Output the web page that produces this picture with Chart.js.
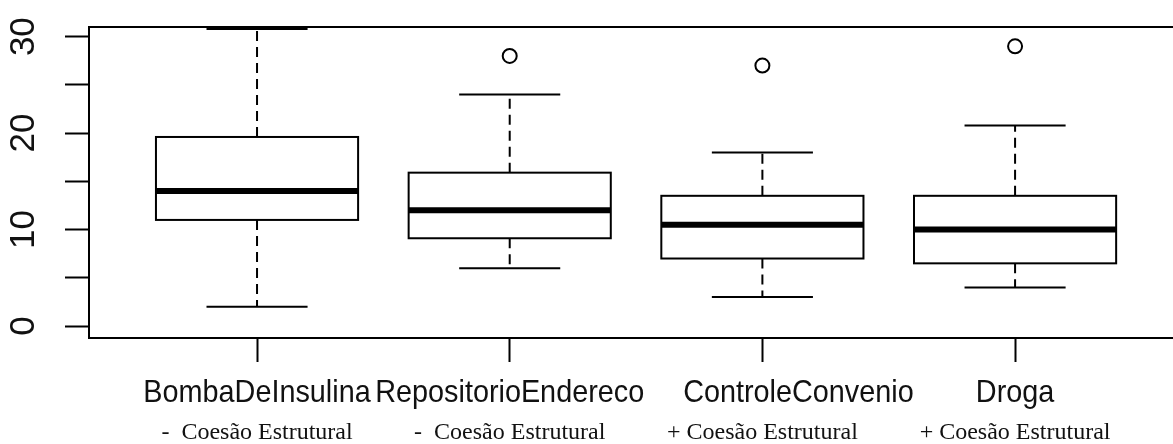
<!DOCTYPE html>
<html>
<head>
<meta charset="utf-8">
<script src="https://cdn.jsdelivr.net/npm/chart.js@4.4.0/dist/chart.umd.min.js"></script>
<style>
  html, body { margin: 0; padding: 0; background: #fff; }
  #wrap { width: 1173px; height: 444px; }
</style>
</head>
<body>
<div id="wrap"><canvas id="myChart"></canvas></div>
<script>
const categories = ["BombaDeInsulina", "RepositorioEndereco", "         ControleConvenio", "Droga"];
const subLabels = ["-  Coesão Estrutural", "-  Coesão Estrutural", "+ Coesão Estrutural", "+ Coesão Estrutural"];

// five-number summary of each group
const whiskerLow = [2, 6, 3, 4];
const boxLow = [11, 9.1, 7, 6.5];
const medians = [14, 12, 10.5, 10];
const boxHigh = [19.6, 15.9, 13.5, 13.5];
const whiskerHigh = [30.8, 24, 18, 20.8];

// points beyond the whiskers (group number, value)
const outlierGroup = [2, 3, 4];
const outlierValue = [28, 27, 29];

const yTicks = [0, 5, 10, 15, 20, 25, 30];
const yLabelled = [0, 10, 20, 30];

const ctx = document.getElementById("myChart").getContext("2d");

// boxes, medians and whiskers drawn on the chart's own scales
const boxplotPlugin = {
  id: "boxplot",
  beforeDatasetsDraw(chart) {
    const c = chart.ctx;
    const area = chart.chartArea;
    const x = chart.scales.x;
    const y = chart.scales.y;
    c.save();
    c.strokeStyle = "#000";
    c.lineWidth = 2;
    // plot frame (right side runs off the canvas)
    c.strokeRect(area.left, area.top, area.right - area.left + 20, area.bottom - area.top);

    categories.forEach((name, i) => {
      const g = i + 1;
      const xc = x.getPixelForValue(g);
      const bx0 = x.getPixelForValue(g - 0.4);
      const bx1 = x.getPixelForValue(g + 0.4);
      const sx0 = x.getPixelForValue(g - 0.2);
      const sx1 = x.getPixelForValue(g + 0.2);
      const yLo = y.getPixelForValue(boxLow[i]);
      const yHi = y.getPixelForValue(boxHigh[i]);
      const yMed = y.getPixelForValue(medians[i]);
      const wLo = y.getPixelForValue(whiskerLow[i]);
      const wHi = y.getPixelForValue(whiskerHigh[i]);

      // dashed whiskers
      c.lineWidth = 2;
      c.setLineDash([10, 6]);
      c.beginPath();
      c.moveTo(xc, yHi); c.lineTo(xc, wHi);
      c.moveTo(xc, yLo); c.lineTo(xc, wLo);
      c.stroke();
      c.setLineDash([]);

      // staples
      c.beginPath();
      c.moveTo(sx0, wHi); c.lineTo(sx1, wHi);
      c.moveTo(sx0, wLo); c.lineTo(sx1, wLo);
      c.stroke();

      // box
      c.fillStyle = "#fff";
      c.fillRect(bx0, yHi, bx1 - bx0, yLo - yHi);
      c.strokeRect(bx0, yHi, bx1 - bx0, yLo - yHi);

      // median
      c.lineWidth = 6;
      c.beginPath();
      c.moveTo(bx0, yMed); c.lineTo(bx1, yMed);
      c.stroke();
    });
    c.restore();
  }
};

// group names in a narrow sans face, with the serif note underneath
const groupLabelPlugin = {
  id: "groupLabels",
  afterDraw(chart) {
    const c = chart.ctx;
    const x = chart.scales.x;
    const base = chart.chartArea.bottom;
    c.save();
    c.fillStyle = "#111";
    c.textAlign = "center";
    c.textBaseline = "alphabetic";
    categories.forEach((name, i) => {
      const px = x.getPixelForValue(i + 1);
      c.font = "32px 'Liberation Sans', Arial, sans-serif";
      c.fillText(name, px, base + 64, c.measureText(name).width * 0.9);
      c.font = "24px 'Liberation Serif', 'Times New Roman', serif";
      c.fillText(subLabels[i], px, base + 101);
    });
    c.restore();
  }
};

const noPadding = (s) => {
  s.paddingTop = 0;
  s.paddingBottom = 0;
  s.paddingLeft = 0;
  s.paddingRight = 0;
};

new Chart(ctx, {
  type: "scatter",
  data: {
    datasets: [{
      data: outlierGroup.map((g, i) => ({ x: g, y: outlierValue[i] })),
      pointStyle: "circle",
      pointRadius: 7,
      pointBorderWidth: 2,
      pointBorderColor: "#000",
      pointBackgroundColor: "rgba(0,0,0,0)"
    }]
  },
  options: {
    responsive: true,
    maintainAspectRatio: false,
    animation: false,
    layout: { autoPadding: false, padding: { top: 27, left: 0, right: 0, bottom: 0 } },
    plugins: { legend: { display: false }, tooltip: { enabled: false } },
    scales: {
      x: {
        type: "linear",
        position: "bottom",
        min: 0.335,
        max: 4.625,
        afterBuildTicks: (s) => { s.ticks = categories.map((_, i) => ({ value: i + 1 })); },
        afterFit: (s) => { s.height = 106; noPadding(s); },
        border: { display: false },
        grid: { drawOnChartArea: false, tickLength: 24, tickWidth: 2, tickColor: "#000" },
        ticks: { display: false }
      },
      y: {
        min: -1.24,
        max: 31,
        afterBuildTicks: (s) => { s.ticks = yTicks.map((v) => ({ value: v })); },
        afterFit: (s) => { s.width = 89; noPadding(s); },
        border: { display: false },
        grid: { drawOnChartArea: false, tickLength: 24, tickWidth: 2, tickColor: "#000" },
        ticks: {
          callback: (v) => (yLabelled.includes(v) ? String(v) : ""),
          minRotation: 90,
          maxRotation: 90,
          crossAlign: "center",
          padding: 21,
          color: "#111",
          font: { family: "'Liberation Sans', Arial, sans-serif", size: 35 }
        }
      }
    }
  },
  plugins: [boxplotPlugin, groupLabelPlugin]
});
</script>
</body>
</html>
